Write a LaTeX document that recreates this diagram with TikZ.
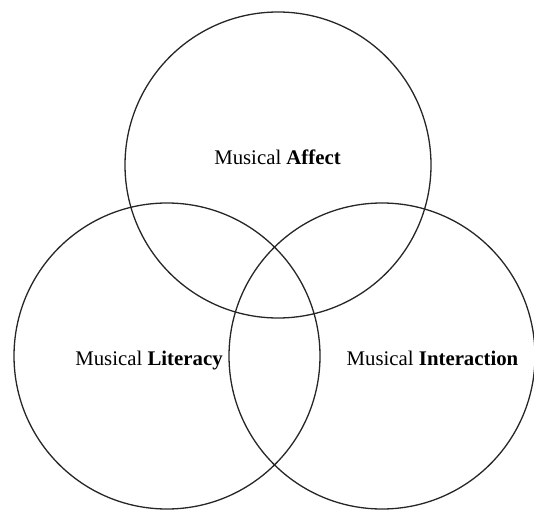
\documentclass[tikz,border=0pt]{standalone}
\usepackage{fontspec}
\setmainfont{Liberation Serif}
\begin{document}
\begin{tikzpicture}[x=1pt,y=-1pt,
  ring/.style={draw=black!85,line width=1.3pt,circle,minimum size=306pt,inner sep=0pt},
  lab/.style={anchor=base,inner sep=0pt,font=\fontsize{20.8}{24}\selectfont,text=black}]
\useasboundingbox (0,0) rectangle (534,510);
\node[ring] (top) at (278,165) {};
\node[ring] (left) at (167,356) {};
\node[ring] (right) at (382,356) {};
\node[lab] (affect) at (277.5,165) {Musical \textbf{Affect}};
\node[lab] (literacy) at (149,365) {Musical \textbf{Literacy}};
\node[lab] (interaction) at (432.5,365) {Musical \textbf{Interaction}};
\end{tikzpicture}
\end{document}
